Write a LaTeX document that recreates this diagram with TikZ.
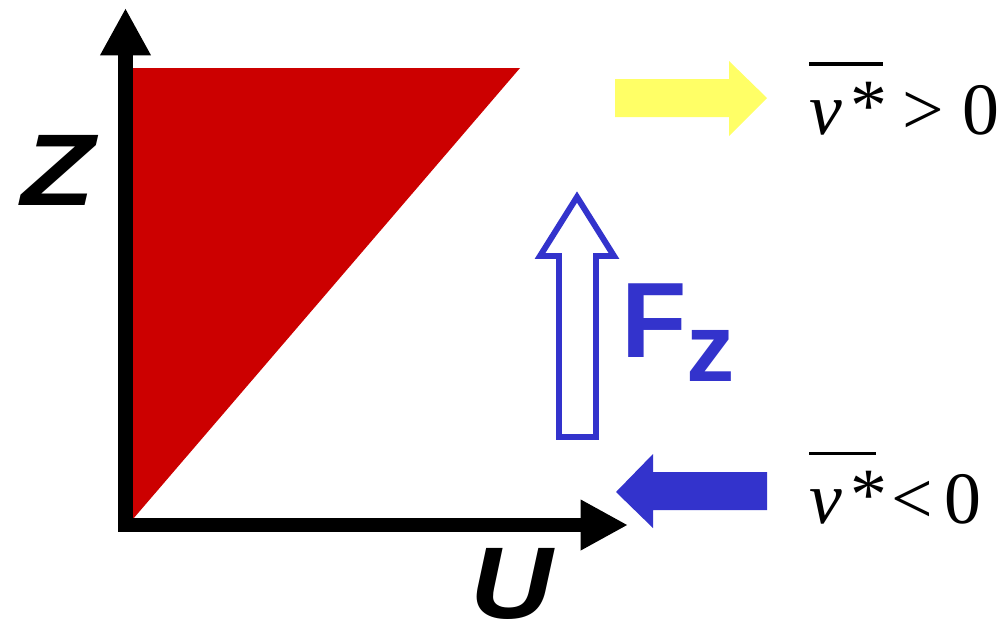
\documentclass[tikz,border=0pt]{standalone}
\usepackage{fontspec}
\setmainfont{Liberation Serif}
\setsansfont{Liberation Sans}
\usetikzlibrary{arrows.meta}

\definecolor{wedgered}{HTML}{CC0000}
\definecolor{fluxblue}{HTML}{3333CC}
\definecolor{lightyellow}{HTML}{FFFF66}

% v* with a bar of the given length
\newcommand{\vstar}[1]{\rlap{\raisebox{38.5pt}{\rule{#1}{2.2pt}}}\textit{v}\hspace{0.12em}\raisebox{2pt}{*}}

\begin{document}
\begin{tikzpicture}[
    x=0.02cm, y=-0.02cm,
    axis/.style={line width=8.5pt, line cap=rect, -{Triangle[width=27pt,length=27pt]}},
    axislabel/.style={font=\sffamily\bfseries\itshape\fontsize{58}{58}\selectfont, inner sep=0pt},
    vlabel/.style={font=\fontsize{42}{42}\selectfont, inner sep=0pt, anchor=base west},
    >=Stealth
]
    \useasboundingbox (0,0) rectangle (1004,623);

    % shear profile
    \fill[wedgered] (133,68) -- (520,68) -- (133,519) -- cycle;

    % axes
    \coordinate (O) at (125.5,525);
    \coordinate (ztip) at (125.5,8);
    \coordinate (utip) at (628,525);
    \draw[axis] (O) -- (ztip);
    \draw[axis] (O) -- (utip);
    \node[axislabel, anchor=base] (zlab) at (58,205) {\scalebox{1.18}[1]{Z}};
    \node[axislabel, anchor=base] (ulab) at (512,618) {\scalebox{1.12}[1]{U}};

    % momentum flux
    \draw[fluxblue, line width=3.4pt, line join=miter, fill=white]
        (577,197) -- (614,256) -- (596,256) -- (596,437) -- (559,437)
        -- (559,256) -- (540,256) -- cycle;
    \node[fluxblue, inner sep=0pt, anchor=base west,
          font=\sffamily\bfseries\fontsize{61}{61}\selectfont] (flux) at (621,357)
        {F\raisebox{-14pt}{\fontsize{55}{55}\selectfont z}};

    % wave drift
    \fill[lightyellow] (615,79) -- (729,79) -- (729,61) -- (767,98)
        -- (729,136) -- (729,117) -- (615,117) -- cycle;
    \fill[fluxblue] (767,472) -- (653,472) -- (653,454) -- (616,492)
        -- (653,528) -- (653,510) -- (767,510) -- cycle;
    \node[vlabel] (vpos) at (809,134) {\vstar{42pt}\hspace{0.2em}>\hspace{0.25em}0};
    \node[vlabel] (vneg) at (809,523) {\vstar{38pt}\hspace{0.05em}<\hspace{0.15em}0};
\end{tikzpicture}
\end{document}
